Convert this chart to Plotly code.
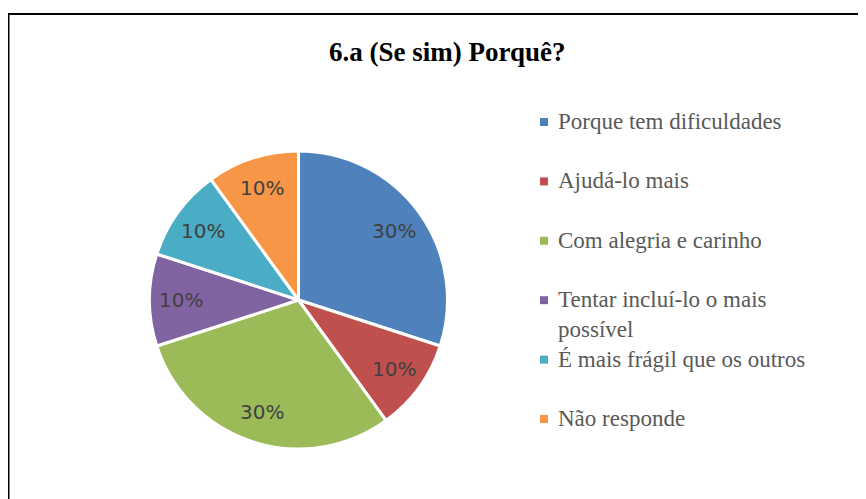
import math
import textwrap
import plotly.graph_objects as go

# ---- data ----
title_text = "6.a (Se sim) Porquê?"
categories = [
    "Porque tem dificuldades",
    "Ajudá-lo mais",
    "Com alegria e carinho",
    "Tentar incluí-lo o mais possível",
    "É mais frágil que os outros",
    "Não responde",
]
percent_values = [30, 10, 30, 10, 10, 10]
slice_colors = ["#4F81BD", "#C0504D", "#9BBB59", "#8064A2", "#4BACC6", "#F79646"]

# ---- layout constants (page pixels; the page body adds an 8px offset) ----
W, H = 866, 499
OFF = 8


def px_x(x):
    return (x - OFF) / W


def px_y(y):
    return 1 - (y - OFF) / H


PIE_CX, PIE_CY, PIE_R = 298.5, 300, 149
LABEL_R = 0.79 * PIE_R

fig = go.Figure()
fig.add_trace(go.Pie(
    labels=categories,
    values=percent_values,
    sort=False,
    direction="clockwise",
    rotation=0,
    marker=dict(colors=slice_colors, line=dict(color="white", width=3)),
    textinfo="none",
    domain=dict(x=[px_x(PIE_CX - PIE_R), px_x(PIE_CX + PIE_R)],
                y=[px_y(PIE_CY + PIE_R), px_y(PIE_CY - PIE_R)]),
    showlegend=False,
    hoverinfo="label+percent",
))

annotations = [dict(
    text="<b>" + title_text + "</b>", x=px_x(447), y=px_y(52), xref="paper", yref="paper",
    xanchor="center", yanchor="middle", showarrow=False,
    font=dict(family="Liberation Serif", size=27, color="#000000"),
)]

# percentage labels along each slice's bisector (Excel best-fit style)
total = sum(percent_values)
cum = 0
for v in percent_values:
    mid = (cum + v / 2) / total * 2 * math.pi
    cum += v
    lx = PIE_CX + LABEL_R * math.sin(mid)
    ly = PIE_CY - LABEL_R * math.cos(mid)
    annotations.append(dict(
        text=f"{v / total:.0%}", x=px_x(lx), y=px_y(ly), xref="paper", yref="paper",
        xanchor="center", yanchor="middle", showarrow=False,
        font=dict(family="DejaVu Sans", size=20, color="#404040"),
    ))

# manual legend (Excel-like spacing)
shapes = []
leg_y0, leg_step = 122, 59.4
leg_font = 23
for i, (lab, col) in enumerate(zip(categories, slice_colors)):
    yc = leg_y0 + i * leg_step
    shapes.append(dict(type="rect", xref="paper", yref="paper",
                       x0=px_x(540), x1=px_x(548), y0=px_y(yc + 4), y1=px_y(yc - 4),
                       fillcolor=col, line=dict(width=0)))
    wrapped = "<br>".join(textwrap.wrap(lab, 27))
    annotations.append(dict(
        text=wrapped, x=px_x(556), y=px_y(yc - 15), xref="paper", yref="paper",
        xanchor="left", yanchor="top", align="left", showarrow=False,
        font=dict(family="Liberation Serif", size=leg_font, color="#595959"),
    ))

# chart frame
shapes.append(dict(type="rect", xref="paper", yref="paper",
                   x0=px_x(8.5), x1=px_x(W + 20), y0=px_y(H + 20), y1=px_y(14),
                   line=dict(color="black", width=2), fillcolor="rgba(0,0,0,0)"))

fig.update_layout(
    width=W, height=H,
    margin=dict(l=0, r=0, t=0, b=0),
    paper_bgcolor="white", plot_bgcolor="white",
    annotations=annotations, shapes=shapes,
)
fig.write_html("out.html")
